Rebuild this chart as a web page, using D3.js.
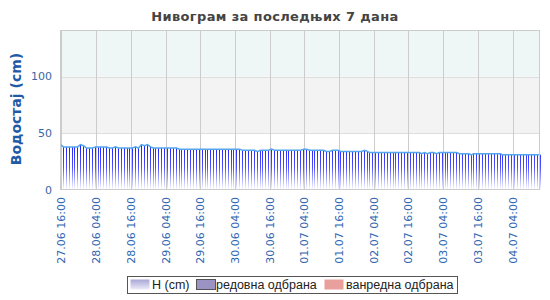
<!DOCTYPE html>
<html>
<head>
<meta charset="utf-8">
<script src="https://cdn.jsdelivr.net/npm/d3@7/dist/d3.min.js"></script>
<style>
  body { margin: 0; background: #fff; }
  svg { font-family: "DejaVu Sans", sans-serif; }
</style>
</head>
<body>
<div id="chart-area"></div>
<script>
// hourly water levels (cm), first reading 27.06 15:30
var startTime = new Date(2024, 5, 27, 15, 30);
var levels = [
  40, 38, 38, 38, 38, 38, 38, 40, 39, 37, 37, 37, 38, 38, 38, 38, 38, 37, 37, 38,
  37, 37, 37, 37, 37, 37, 38, 37, 40, 39, 40, 38, 37, 37, 37, 37, 37, 37, 37, 37,
  37, 36, 36, 36, 36, 36, 36, 36, 36, 36, 36, 36, 36, 36, 36, 36, 36, 36, 36, 36,
  36, 36, 36, 35, 35, 35, 35, 35, 34, 35, 35, 35, 35, 36, 35, 35, 35, 35, 35, 35,
  35, 35, 35, 35, 36, 36, 35, 35, 35, 35, 35, 35, 34, 34, 35, 35, 35, 34, 34, 34,
  34, 34, 34, 34, 34, 35, 34, 33, 33, 33, 33, 33, 33, 33, 33, 33, 33, 33, 33, 33,
  33, 33, 33, 33, 33, 32, 33, 32, 33, 33, 32, 33, 33, 33, 33, 33, 33, 33, 32, 32,
  32, 32, 31, 32, 32, 32, 32, 32, 32, 32, 32, 32, 32, 31, 31, 31, 31, 31, 31, 31,
  31, 31, 31, 31, 31, 31, 31
];
var yTicks = [0, 50, 100];
var yMax = 141;
var bands = [
  { from: 0, to: 50, color: "#ffffff" },
  { from: 50, to: 100, color: "#f3f3f3" },
  { from: 100, to: 141, color: "#eef7f5" }
];
var legendItems = ["H (cm)", "редовна одбрана", "ванредна одбрана"];
var legendColors = ["url(#legendGrad)", "#9b93c4", "#e9a09c"];

var data = levels.map((v, i) => ({ time: d3.timeHour.offset(startTime, i), value: v }));

var margin = { top: 30, right: 10, bottom: 110, left: 60 };
var width = 550 - margin.left - margin.right;
var height = 300 - margin.top - margin.bottom;

var svg = d3.select("#chart-area")
  .append("svg")
  .attr("width", 550)
  .attr("height", 300);

var defs = svg.append("defs");

var x = d3.scaleTime()
  .domain(d3.extent(data, d => d.time))
  .range([0, width]);

var y = d3.scaleLinear()
  .domain([0, yMax])
  .range([height, 0]);

var barGrad = defs.append("linearGradient")
  .attr("id", "barGrad")
  .attr("gradientUnits", "userSpaceOnUse")
  .attr("x1", 0).attr("x2", 0)
  .attr("y1", y(40)).attr("y2", height);
barGrad.append("stop").attr("offset", 0).attr("stop-color", "#1a1aff");
barGrad.append("stop").attr("offset", 0.5).attr("stop-color", "#5050ff");
barGrad.append("stop").attr("offset", 1).attr("stop-color", "#ffffff");

var legendGrad = defs.append("linearGradient")
  .attr("id", "legendGrad")
  .attr("x1", 0).attr("x2", 0).attr("y1", 0).attr("y2", 1);
legendGrad.append("stop").attr("offset", 0).attr("stop-color", "#a9a6d6");
legendGrad.append("stop").attr("offset", 1).attr("stop-color", "#ecebf8");

var g = svg.append("g")
  .attr("transform", "translate(" + margin.left + "," + margin.top + ")");

// background bands
g.selectAll(".band")
  .data(bands)
  .enter().append("rect")
  .attr("class", "band")
  .attr("x", 0)
  .attr("width", width)
  .attr("y", d => y(d.to))
  .attr("height", d => y(d.from) - y(d.to))
  .attr("fill", d => d.color);

// horizontal grid
g.selectAll(".hgrid")
  .data(yTicks.filter(d => d > 0))
  .enter().append("line")
  .attr("class", "hgrid")
  .attr("x1", 0).attr("x2", width)
  .attr("y1", d => Math.round(y(d)) + 0.5)
  .attr("y2", d => Math.round(y(d)) + 0.5)
  .attr("stroke", "#dddddd");

// ticks every 12h at 04:00 and 16:00
var xTicks = d3.timeHour.range(x.domain()[0], x.domain()[1])
  .filter(d => d.getHours() === 4 || d.getHours() === 16);

g.selectAll(".vgrid")
  .data(xTicks)
  .enter().append("line")
  .attr("class", "vgrid")
  .attr("x1", d => Math.round(x(d)) + 0.5)
  .attr("x2", d => Math.round(x(d)) + 0.5)
  .attr("y1", 0).attr("y2", height)
  .attr("stroke", "#cccccc");

// bars
g.selectAll(".bar")
  .data(data)
  .enter().append("rect")
  .attr("class", "bar")
  .attr("x", d => Math.round(x(d.time)))
  .attr("width", 1)
  .attr("y", d => y(d.value))
  .attr("height", d => height - y(d.value))
  .attr("fill", "url(#barGrad)");

// level line
var line = d3.line()
  .x(d => Math.round(x(d.time)) + 0.5)
  .y(d => y(d.value));

g.append("path")
  .datum(data)
  .attr("d", line)
  .attr("fill", "none")
  .attr("stroke", "#55a6f0")
  .attr("stroke-width", 1.5);

// plot frame
g.append("rect")
  .attr("x", 0.5).attr("y", 0.5)
  .attr("width", width - 1).attr("height", height - 1)
  .attr("fill", "none")
  .attr("stroke", "#cccccc");

// y tick labels
g.selectAll(".ylab")
  .data(yTicks)
  .enter().append("text")
  .attr("class", "ylab")
  .attr("x", -8)
  .attr("y", d => y(d))
  .attr("dy", "0.35em")
  .attr("text-anchor", "end")
  .attr("font-size", "11px")
  .attr("fill", "#3a68a6")
  .text(d => d);

// x tick labels
var fmt = d3.timeFormat("%d.%m %H:%M");
g.selectAll(".xlab")
  .data(xTicks)
  .enter().append("text")
  .attr("class", "xlab")
  .attr("transform", d => "translate(" + (Math.round(x(d)) + 0.5) + "," + (height + 7) + ") rotate(-90)")
  .attr("dy", "0.35em")
  .attr("text-anchor", "end")
  .attr("font-size", "11px")
  .attr("fill", "#2f66b3")
  .text(d => fmt(d));

// title
svg.append("text")
  .attr("x", 275)
  .attr("y", 21)
  .attr("text-anchor", "middle")
  .attr("font-size", "13px")
  .attr("font-weight", "bold")
  .attr("letter-spacing", "0.35px")
  .attr("fill", "#444444")
  .text("Нивограм за последњих 7 дана");

// y axis label
svg.append("text")
  .attr("transform", "translate(21," + (margin.top + height / 2 - 1) + ") rotate(-90)")
  .attr("text-anchor", "middle")
  .attr("font-size", "14px")
  .attr("font-weight", "bold")
  .attr("fill", "#1f5aa6")
  .text("Водостај (cm)");

// legend
var legendX = [130, 196, 324];
var legendTextGap = [22, 20, 22];
var legend = svg.append("g");
legend.append("rect")
  .attr("x", 127.5).attr("y", 276.5)
  .attr("width", 330).attr("height", 17)
  .attr("fill", "#ffffff")
  .attr("stroke", "#555555");

legendItems.forEach((name, i) => {
  legend.append("rect")
    .attr("x", legendX[i] + 0.5).attr("y", 279.5)
    .attr("width", 19).attr("height", 10)
    .attr("fill", legendColors[i])
    .attr("stroke", i === 1 ? "#555555" : "none");
  legend.append("text")
    .attr("x", legendX[i] + legendTextGap[i])
    .attr("y", 289)
    .style("font-family", "'Liberation Sans', Arial, sans-serif")
    .attr("font-size", "12.5px")
    .attr("fill", "#222222")
    .text(name);
});
</script>
</body>
</html>
